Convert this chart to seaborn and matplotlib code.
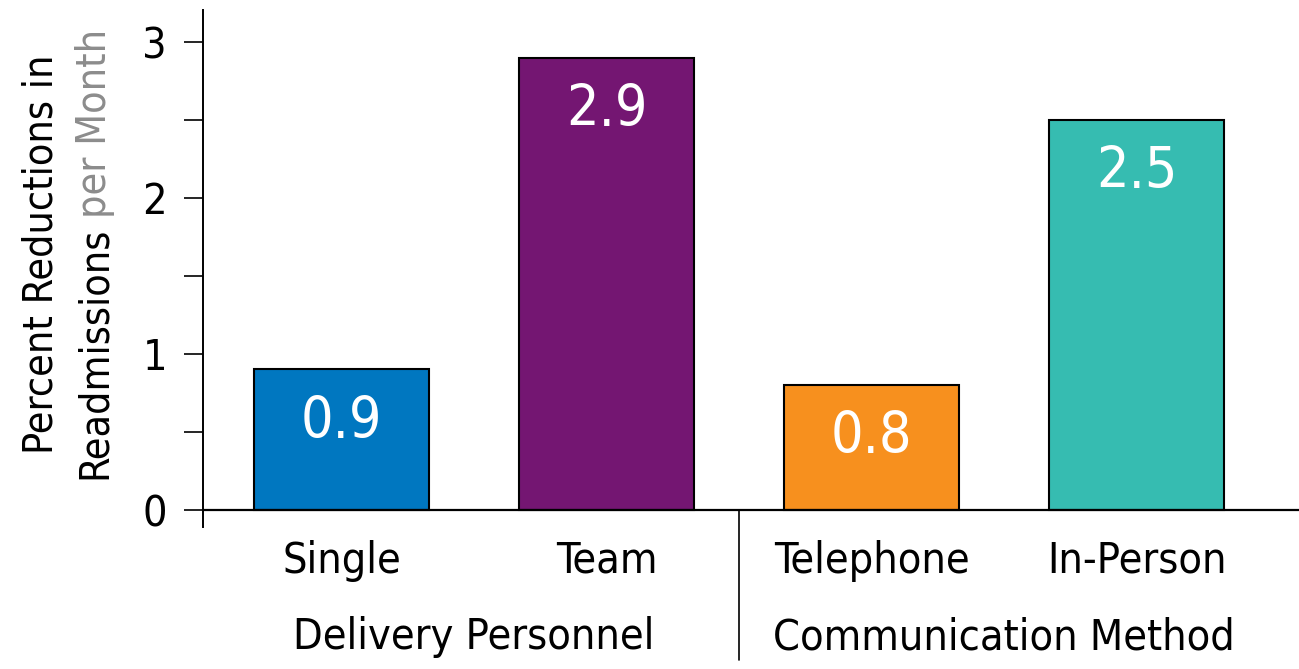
import matplotlib
matplotlib.use('Agg')
import matplotlib.pyplot as plt
import seaborn as sns
from matplotlib.ticker import MultipleLocator

categories = ['Single', 'Team', 'Telephone', 'In-Person']
values = [0.9, 2.9, 0.8, 2.5]
groups = ['Delivery Personnel', 'Communication Method']
colors = ['#0077c0', '#741672', '#f7901e', '#36bcb1']

sns.set_style('white')
plt.rcParams['font.family'] = ['DejaVu Sans']
plt.rcParams['font.stretch'] = 'condensed'
for k in ['text.color', 'xtick.color', 'ytick.color', 'axes.labelcolor']:
    plt.rcParams[k] = 'black'

W, H = 1299, 669
fig = plt.figure(figsize=(W / 100, H / 100), dpi=100)
ax = fig.add_axes([203 / W, (H - 527) / H, 1 - 203 / W, 517 / H])

sns.barplot(x=categories, y=values, hue=categories, palette=colors,
            legend=False, width=0.66, saturation=1, edgecolor='black',
            linewidth=1.5, ax=ax)

ax.set_xlim(-0.523, 3.613)
ax.set_ylim(-0.11, 3.205)
ax.axhline(0, color='black', lw=1.6, zorder=3)

for s in ['top', 'right', 'bottom']:
    ax.spines[s].set_visible(False)
ax.spines['left'].set_linewidth(1.4)
ax.spines['left'].set_color('black')

ax.yaxis.set_major_locator(MultipleLocator(1))
ax.yaxis.set_minor_locator(MultipleLocator(0.5))
ax.tick_params(axis='y', which='both', left=True, direction='out', length=14,
               width=1.2, color='black')
ax.tick_params(axis='y', which='major', labelsize=31, pad=12)
ax.tick_params(axis='x', length=0, labelsize=31, pad=9)
ax.set_xlabel('')
ax.set_ylabel('')

# value labels inside bars
for p in ax.patches:
    h = p.get_height()
    if h <= 0:
        continue
    ax.annotate(f'{h:.1f}', (p.get_x() + p.get_width() / 2, h),
                xytext=(0, -38), textcoords='offset points',
                ha='center', va='center', color='white', fontsize=41,
                fontweight='medium')

# group labels and separator
xt = ax.get_xaxis_transform()
ax.text(0.5, -0.213, groups[0], transform=xt, ha='center', va='center', fontsize=31)
ax.text(2.5, -0.213, groups[1], transform=xt, ha='center', va='center', fontsize=31)
ax.plot([1.5, 1.5], [0, -0.96], color='black', lw=1.2, clip_on=False)

# y label, two lines, second line partly grey
fig.text(42 / W, 1 - 254 / H, 'Percent Reductions in', rotation=90,
         ha='center', va='center', fontsize=29.5)
fig.canvas.draw()
r = fig.canvas.get_renderer()
x2 = 95 / W
gap = 9
probe = fig.text(x2, 0.5, 'Readmissions', rotation=90, fontsize=29.5)
h1 = probe.get_window_extent(r).height
probe.remove()
probe = fig.text(x2, 0.5, 'per Month', rotation=90, fontsize=29.5)
h2 = probe.get_window_extent(r).height
probe.remove()
y0 = (H - 254) - (h1 + gap + h2) / 2
fig.text(x2, y0 / H, 'Readmissions', rotation=90, rotation_mode='anchor',
         ha='left', va='center', fontsize=29.5)
fig.text(x2, (y0 + h1 + gap) / H, 'per Month', rotation=90, rotation_mode='anchor',
         ha='left', va='center', fontsize=29.5, color='#8c8c8c')

fig.savefig('out.png', dpi=100)
